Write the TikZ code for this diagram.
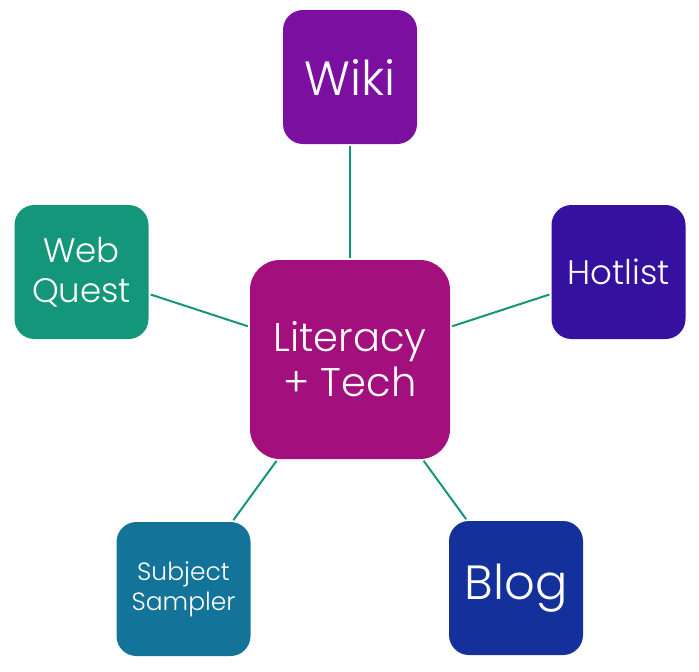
\documentclass[tikz,border=0pt]{standalone}
\usepackage{fontspec}
\setmainfont{Poppins Light}
\definecolor{cwiki}{RGB}{123,16,160}
\definecolor{ccenter}{RGB}{163,15,125}
\definecolor{chot}{RGB}{54,16,158}
\definecolor{cblog}{RGB}{20,48,155}
\definecolor{csub}{RGB}{19,115,152}
\definecolor{cweb}{RGB}{20,150,122}
\definecolor{cline}{RGB}{20,150,122}
\begin{document}
\begin{tikzpicture}[x=1pt,y=-1pt,
  box/.style={rounded corners=20pt,minimum width=134pt,minimum height=134pt,inner sep=0pt,text=white,align=center},
  link/.style={draw=cline,line width=2pt,shorten <=2pt,shorten >=2pt}]
\useasboundingbox (0,0) rectangle (699,672);
\node[box,fill=ccenter,minimum width=200pt,minimum height=199pt,rounded corners=30pt,font=\fontsize{40}{45}\selectfont] (c) at (350,359.5) {Literacy\\+ Tech};
\node[box,fill=cwiki,font=\fontsize{48}{50}\selectfont] (w) at (350,77) {Wiki};
\node[box,fill=chot,font=\fontsize{34}{40}\selectfont] (h) at (618.5,272) {Hotlist};
\node[box,fill=cweb,font=\fontsize{34}{40}\selectfont] (q) at (81.5,272) {Web\\Quest};
\node[box,fill=cblog,font=\fontsize{48}{50}\selectfont] (b) at (516,588) {Blog};
\node[box,fill=csub,font=\fontsize{25}{30}\selectfont] (s) at (183.5,589) {Subject\\Sampler};
\draw[link] (c) -- (w);
\draw[link] (c) -- (h);
\draw[link] (c) -- (q);
\draw[link] (c) -- (b);
\draw[link] (c) -- (s);
\end{tikzpicture}
\end{document}
